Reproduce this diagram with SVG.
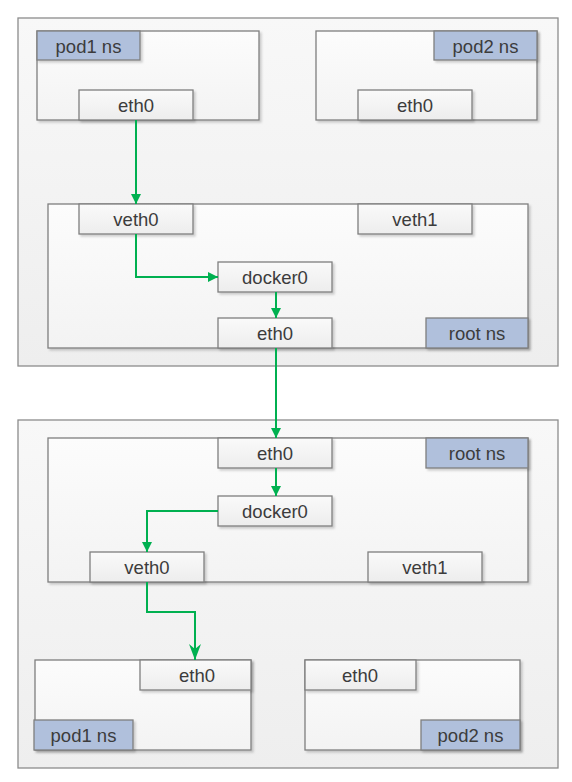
<svg xmlns="http://www.w3.org/2000/svg" width="572" height="782" viewBox="0 0 572 782">
<defs>
<linearGradient id="gOuter" x1="0" y1="0" x2="0" y2="1"><stop offset="0" stop-color="#f8f8f8"/><stop offset="1" stop-color="#eeeeee"/></linearGradient>
<linearGradient id="gInner" x1="0" y1="0" x2="0" y2="1"><stop offset="0" stop-color="#fcfcfc"/><stop offset="1" stop-color="#f3f3f3"/></linearGradient>
<linearGradient id="gPort" x1="0" y1="0" x2="0" y2="1"><stop offset="0" stop-color="#fafafa"/><stop offset="1" stop-color="#ededed"/></linearGradient>
<filter id="sh" x="-5%" y="-5%" width="115%" height="120%"><feDropShadow dx="2" dy="2" stdDeviation="1" flood-color="#000" flood-opacity="0.18"/></filter>
<marker id="arr" viewBox="0 0 10 10" refX="10" refY="5" markerWidth="10" markerHeight="10" markerUnits="userSpaceOnUse" orient="auto"><path d="M0,0 L10,5 L0,10 Z" fill="#00b050"/></marker>
<marker id="arr2" viewBox="0 0 16 12" refX="16" refY="6" markerWidth="16" markerHeight="12" markerUnits="userSpaceOnUse" orient="auto"><path d="M0,0 L16,6 L0,12 L5,6 Z" fill="#00b050"/></marker>
</defs>
<style>
.outer{fill:url(#gOuter);stroke:#8c8c8c;stroke-width:1.3}
.ns{fill:url(#gInner);stroke:#7f7f7f;stroke-width:1.3;filter:url(#sh)}
.port{fill:url(#gPort);stroke:#7f7f7f;stroke-width:1.3;filter:url(#sh)}
.lbl{fill:#b0c0dc;stroke:#7f7f7f;stroke-width:1.3;filter:url(#sh)}
text{font-family:"Liberation Sans",Arial,sans-serif;font-size:18.5px;fill:#3c3c3c;text-anchor:middle;dominant-baseline:central}
.wire{fill:none;stroke:#00b050;stroke-width:2}
</style>

<g id="host1">
<rect class="outer" x="18" y="18" width="540" height="348"/>
</g>
<g id="host1-pod1">
<rect class="ns" x="37" y="31" width="222" height="89"/>
<rect class="lbl" x="37" y="31" width="103" height="29"/><text x="88.5" y="46">pod1 ns</text>
<rect class="port" x="79" y="90" width="114" height="30"/><text x="136" y="105.5">eth0</text>
</g>
<g id="host1-pod2">
<rect class="ns" x="316" y="31" width="221" height="89"/>
<rect class="lbl" x="434" y="31" width="103" height="29"/><text x="485.5" y="46">pod2 ns</text>
<rect class="port" x="358" y="90" width="114" height="30"/><text x="415" y="105.5">eth0</text>
</g>
<g id="host1-root">
<rect class="ns" x="48" y="204" width="480" height="144"/>
<rect class="port" x="79" y="204" width="114" height="30"/><text x="136" y="219.5">veth0</text>
<rect class="port" x="358" y="204" width="114" height="30"/><text x="415" y="219.5">veth1</text>
<rect class="port" x="218" y="262" width="114" height="30"/><text x="275" y="277.5">docker0</text>
<rect class="port" x="218" y="318" width="114" height="30"/><text x="275" y="333.5">eth0</text>
<rect class="lbl" x="426" y="318" width="102" height="30"/><text x="477" y="333.5">root ns</text>
</g>

<g id="host2">
<rect class="outer" x="18" y="420" width="540" height="348"/>
</g>
<g id="host2-root">
<rect class="ns" x="48" y="438" width="480" height="144"/>
<rect class="port" x="218" y="438" width="114" height="30"/><text x="275" y="453.5">eth0</text>
<rect class="lbl" x="426" y="438" width="102" height="30"/><text x="477" y="453.5">root ns</text>
<rect class="port" x="218" y="496" width="114" height="30"/><text x="275" y="511.5">docker0</text>
<rect class="port" x="90" y="552" width="114" height="30"/><text x="147" y="567.5">veth0</text>
<rect class="port" x="368" y="552" width="114" height="30"/><text x="425" y="567.5">veth1</text>
</g>
<g id="host2-pod1">
<rect class="ns" x="35" y="660" width="216" height="90"/>
<rect class="port" x="140" y="660" width="111" height="30"/><text x="197" y="675.5">eth0</text>
<rect class="lbl" x="34" y="720" width="99" height="30"/><text x="83.5" y="735.5">pod1 ns</text>
</g>
<g id="host2-pod2">
<rect class="ns" x="305" y="660" width="215" height="90"/>
<rect class="port" x="305" y="660" width="111" height="30"/><text x="360" y="675.5">eth0</text>
<rect class="lbl" x="421" y="720" width="99" height="30"/><text x="470.5" y="735.5">pod2 ns</text>
</g>

<g id="connectors">
<path class="wire" d="M136,120 V204" marker-end="url(#arr)"/>
<path class="wire" d="M136,234 V277 H218" marker-end="url(#arr)"/>
<path class="wire" d="M276,292 V318" marker-end="url(#arr)"/>
<path class="wire" d="M276,348 V438" marker-end="url(#arr)"/>
<path class="wire" d="M276,468 V496" marker-end="url(#arr)"/>
<path class="wire" d="M218,511 H147 V552" marker-end="url(#arr)"/>
<path class="wire" d="M147,582 V612 H195 V660" marker-end="url(#arr2)"/>
</g>
</svg>
